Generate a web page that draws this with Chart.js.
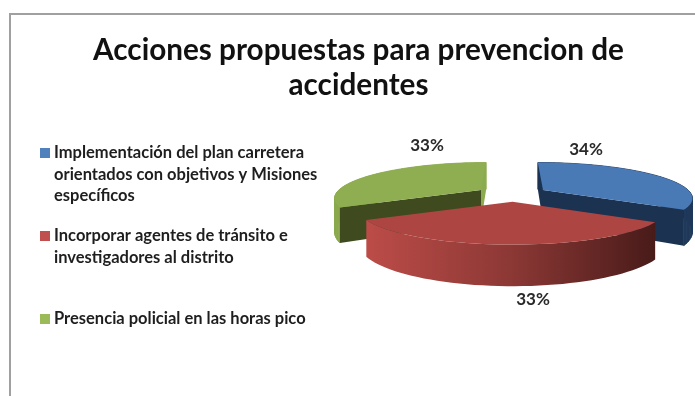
<!DOCTYPE html>
<html>
<head>
<meta charset="utf-8">
<style>
  html, body { margin: 0; padding: 0; background: #fff; }
  #wrap { position: relative; width: 695px; height: 396px; overflow: hidden; }
  #frame { position: absolute; left: 9px; top: 13px; right: -4px; bottom: -4px; border: 2px solid #a0a0a0; }
</style>
<script src="https://cdn.jsdelivr.net/npm/chart.js@4/dist/chart.umd.min.js"></script>
</head>
<body>
<div id="wrap">
  <div id="frame"></div>
  <canvas id="pie_chart" width="695" height="396" style="position:absolute;left:0;top:0"></canvas>
</div>
<script>
const titleLines = ["Acciones propuestas para prevencion de", "accidentes"]
const categoryLines = [
  ["Implementación del plan carretera", "orientados con objetivos y Misiones", "específicos"],
  ["Incorporar agentes de tránsito e", "investigadores al distrito"],
  ["Presencia policial en las horas pico"],
]
const values = [34, 33, 33]

const legendColors = ["#4F81BD", "#C0504D", "#9BBB59"]
const topColors = ["#4A7AB6", "#AD4642", "#8FAE52"]
const rimColors = ["#1F3A5C", null, "#8CAA4E"]
const faceColors = ["#1B3250", null, "#3F4A1E"]

const legendRows = [153, 236, 319]
const legendLineGap = 21.5
const legendX = 54
const fontName = "Lato, 'Open Sans', sans-serif"

// perspective view of the exploded pie, slices share one vanishing line
const view = { cx: 512, a: 145, b: 33, k: 0.2, depth: 32 }
const sliceViews = [
  { ax: 543, ay: 190, s: 1, xs: 1, label: [586, 150] },
  { ax: 512.5, ay: 201.7, s: 1.04, xs: 1, label: [533, 300] },
  { ax: 481, ay: 190, s: 1, xs: 0.98, label: [427, 146] },
]

function project(sv, angle, r, z) {
  const u = Math.cos(angle) * r
  const v = Math.sin(angle) * r
  const w = 1 / (1 - view.k * v)
  return [
    view.cx + (sv.ax - view.cx + view.a * sv.s * sv.xs * u) * w,
    sv.ay + (view.b * sv.s * v + view.depth * sv.s * z) * w,
  ]
}

function arcPoints(arc, sv, z) {
  const pts = []
  const steps = 48
  for (let i = 0; i <= steps; i++) {
    const t = arc.startAngle + ((arc.endAngle - arc.startAngle) * i) / steps
    pts.push(project(sv, t, 1, z))
  }
  return pts
}

function fillPoly(ctx, pts, color) {
  ctx.beginPath()
  pts.forEach((p, i) => (i ? ctx.lineTo(p[0], p[1]) : ctx.moveTo(p[0], p[1])))
  ctx.closePath()
  ctx.fillStyle = color
  ctx.fill()
}

// the rim folds over at the far left and right, so it goes in one quad per step
function fillRim(ctx, top, bottom, color) {
  ctx.strokeStyle = color
  ctx.lineWidth = 0.8
  for (let i = 0; i < top.length - 1; i++) {
    fillPoly(ctx, [top[i], top[i + 1], bottom[i + 1], bottom[i]], color)
    ctx.stroke()
  }
}

function cutFace(sv, angle) {
  return [
    project(sv, angle, 0, 0),
    project(sv, angle, 1, 0),
    project(sv, angle, 1, 1),
    project(sv, angle, 0, 1),
  ]
}

const pie3d = {
  id: "pie3d",
  beforeDatasetsDraw(chart) {
    const ctx = chart.ctx
    const arcs = chart.getDatasetMeta(0).data
    // red slice sits in front, so it is painted last
    ;[0, 2, 1].forEach((i) => {
      const arc = arcs[i]
      const sv = sliceViews[i]
      const top = arcPoints(arc, sv, 0)
      const bottom = arcPoints(arc, sv, 1)
      if (rimColors[i]) {
        fillRim(ctx, top, bottom, rimColors[i])
      } else {
        // front slice never folds, one polygon keeps its gradient clean
        const rim = ctx.createLinearGradient(top[top.length - 1][0], 0, top[0][0], 0)
        rim.addColorStop(0, "#BC4C48")
        rim.addColorStop(0.5, "#8C3835")
        rim.addColorStop(1, "#481B19")
        fillPoly(ctx, top.concat(bottom.slice().reverse()), rim)
      }
      if (faceColors[i]) {
        const edge = i === 0 ? arc.endAngle : arc.startAngle
        const back = i === 0 ? arc.startAngle : arc.endAngle
        fillPoly(ctx, cutFace(sv, back), i === 0 ? faceColors[i] : rimColors[i])
        fillPoly(ctx, cutFace(sv, edge), faceColors[i])
      }
      fillPoly(ctx, [project(sv, 0, 0, 0)].concat(top), topColors[i])
    })
    return false
  },
  afterDraw(chart) {
    const ctx = chart.ctx
    const total = values.reduce((a, b) => a + b, 0)
    ctx.save()
    ctx.textBaseline = "middle"

    // legend, the built-in one cannot wrap or space rows like this
    categoryLines.forEach((lines, i) => {
      ctx.fillStyle = legendColors[i]
      ctx.fillRect(legendX - 14, legendRows[i] - 5, 10, 10)
      ctx.fillStyle = "#1E1E1E"
      ctx.font = "700 16.5px " + fontName
      ctx.textAlign = "left"
      lines.forEach((line, n) => {
        ctx.fillText(line, legendX, legendRows[i] + n * legendLineGap)
      })
    })

    // percentage labels
    ctx.font = "700 17px " + fontName
    ctx.textAlign = "center"
    ctx.fillStyle = "#2A2A2A"
    values.forEach((value, i) => {
      const text = Math.round((value / total) * 100) + "%"
      ctx.fillText(text, sliceViews[i].label[0], sliceViews[i].label[1])
    })
    ctx.restore()
  },
}

new Chart(document.getElementById("pie_chart"), {
  type: "pie",
  plugins: [pie3d],
  data: {
    labels: categoryLines.map((lines) => lines.join(" ")),
    datasets: [{ data: values, backgroundColor: legendColors, borderWidth: 0 }],
  },
  options: {
    responsive: false,
    animation: false,
    layout: { padding: { left: 22 } },
    plugins: {
      legend: { display: false },
      tooltip: { enabled: false },
      title: {
        display: true,
        text: titleLines,
        color: "#111111",
        font: { family: fontName, size: 29.7, weight: "700", lineHeight: 1.21 },
        padding: { top: 32, bottom: 0 },
      },
    },
  },
})
</script>
</body>
</html>
